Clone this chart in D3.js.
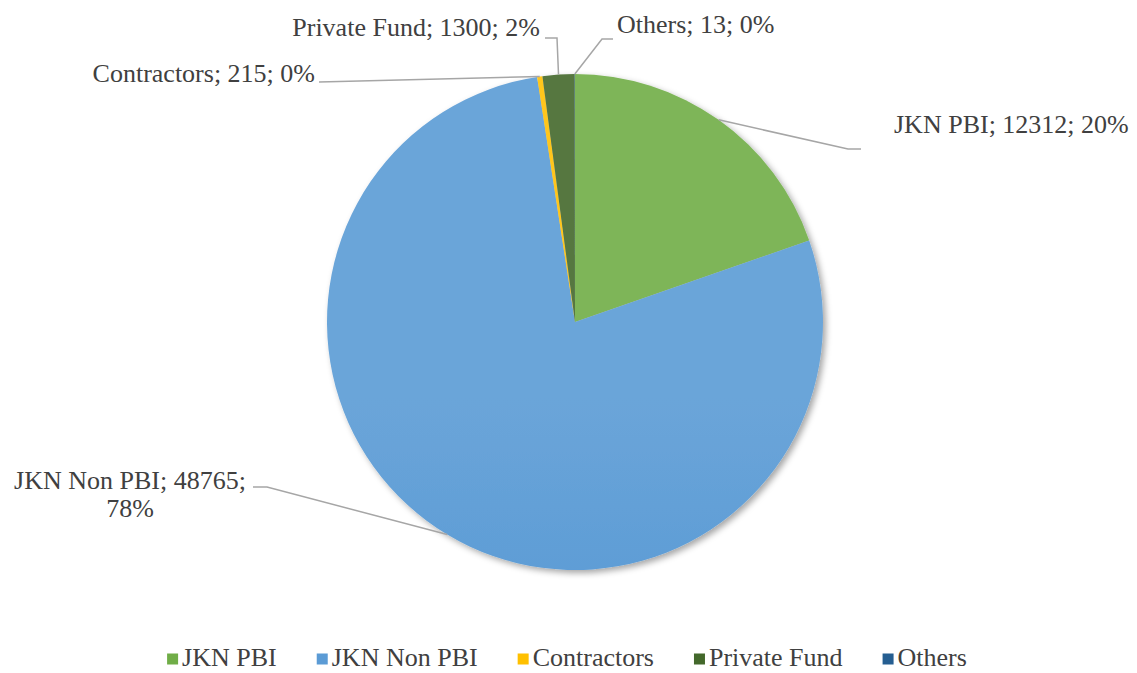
<!DOCTYPE html>
<html>
<head>
<meta charset="utf-8">
<script src="https://cdn.jsdelivr.net/npm/d3@7"></script>
<style>
  body { margin: 0; background: #fff; }
</style>
</head>
<body>
<div id="chart"></div>
<script>
const categories = ["JKN PBI", "JKN Non PBI", "Contractors", "Private Fund", "Others"];
const values = [12312, 48765, 215, 1300, 13];
const percents = ["20%", "78%", "0%", "2%", "0%"];
const colors = ["#70AD47", "#5B9BD5", "#FFC000", "#43682B", "#255E91"];

const w = 1137;
const h = 673;
const cx = 575, cy = 322, r = 248;
const fontSize = 26;
const fontFamily = "Times New Roman, Liberation Serif, DejaVu Serif, Noto Serif, serif";

// where each data label sits and where its leader line bends (screen px)
const labelLayout = [
  { x: 894, y: 133, anchor: "start", line: [[861, 149], [848, 149]] },
  { x: 130, y: 489, anchor: "middle", wrap: true, line: [[253, 487], [267, 487]] },
  { x: 315, y: 82, anchor: "end", line: [[319, 82]] },
  { x: 540, y: 36, anchor: "end", line: [[545, 38], [557, 38]] },
  { x: 617, y: 33, anchor: "start", line: [[613, 39], [602, 39]] }
];

const data = categories.map((c, i) => ({ name: c, value: values[i], pct: percents[i], color: colors[i], i: i }));

const svg = d3.select("#chart").append("svg")
  .attr("width", w)
  .attr("height", h)
  .style("font-family", fontFamily);

const defs = svg.append("defs");

const shadow = defs.append("filter")
  .attr("id", "shadow")
  .attr("x", "-10%").attr("y", "-10%")
  .attr("width", "120%").attr("height", "120%");
shadow.append("feDropShadow")
  .attr("dx", 3).attr("dy", 3)
  .attr("stdDeviation", 3)
  .attr("flood-color", "#000")
  .attr("flood-opacity", 0.35);

data.forEach(d => {
  const base = d3.rgb(d.color);
  const top = d3.interpolateRgb(base, "#fff")(0.1);
  const hb = d3.hsl(base);
  hb.l = Math.max(0, hb.l - 0.1);
  const g = defs.append("linearGradient")
    .attr("id", "grad" + d.i)
    .attr("gradientUnits", "userSpaceOnUse")
    .attr("x1", 0).attr("x2", 0)
    .attr("y1", cy - r).attr("y2", cy + r);
  g.append("stop").attr("offset", "0%").attr("stop-color", top);
  g.append("stop").attr("offset", "45%").attr("stop-color", base.formatHex());
  g.append("stop").attr("offset", "100%").attr("stop-color", hb.formatHex());
});

const pie = d3.pie().sort(null).value(d => d.value);
const arcs = pie(data);
const arc = d3.arc().innerRadius(0).outerRadius(r);

const gPie = svg.append("g")
  .attr("transform", "translate(" + cx + "," + cy + ")");

gPie.append("g")
  .attr("filter", "url(#shadow)")
  .selectAll("path")
  .data(arcs)
  .enter()
  .append("path")
  .attr("d", arc)
  .attr("fill", d => "url(#grad" + d.data.i + ")");

// leader lines
const edgePoint = function(d) {
  const a = (d.startAngle + d.endAngle) / 2;
  return [cx + r * Math.sin(a), cy - r * Math.cos(a)];
};

svg.append("g")
  .selectAll("polyline")
  .data(arcs)
  .enter()
  .append("polyline")
  .attr("points", d => {
    const pts = labelLayout[d.data.i].line.concat([edgePoint(d)]);
    return pts.map(p => p.join(",")).join(" ");
  })
  .attr("fill", "none")
  .attr("stroke", "#A6A6A6")
  .attr("stroke-width", 1.5);

// data labels
const labels = svg.append("g")
  .selectAll("text")
  .data(data)
  .enter()
  .append("text")
  .attr("x", d => labelLayout[d.i].x)
  .attr("y", d => labelLayout[d.i].y)
  .attr("text-anchor", d => labelLayout[d.i].anchor)
  .style("font-family", fontFamily)
  .style("font-size", fontSize + "px")
  .attr("fill", "#404040");

labels.each(function(d) {
  const t = d3.select(this);
  const L = labelLayout[d.i];
  if (L.wrap) {
    t.append("tspan").attr("x", L.x).text(d.name + "; " + d.value + ";");
    t.append("tspan").attr("x", L.x).attr("dy", 28).text(d.pct);
  } else {
    t.text(d.name + "; " + d.value + "; " + d.pct);
  }
});

// legend
const legend = svg.append("g");
const legendY = 659;
const items = legend.selectAll("g")
  .data(data)
  .enter()
  .append("g");

items.append("rect")
  .attr("width", 11)
  .attr("height", 11)
  .attr("y", legendY - 5.5)
  .attr("fill", d => d.color);

items.append("text")
  .attr("x", 15)
  .attr("y", legendY + 7)
  .style("font-family", fontFamily)
  .style("font-size", fontSize + "px")
  .attr("fill", "#404040")
  .text(d => d.name);

let xPos = 0;
const gap = 40;
items.each(function() {
  const g = d3.select(this);
  const tw = g.select("text").node().getComputedTextLength();
  g.attr("transform", "translate(" + xPos + ",0)");
  xPos += 15 + tw + gap;
});
const totalW = xPos - gap;
legend.attr("transform", "translate(" + (567 - totalW / 2) + ",0)");
</script>
</body>
</html>
